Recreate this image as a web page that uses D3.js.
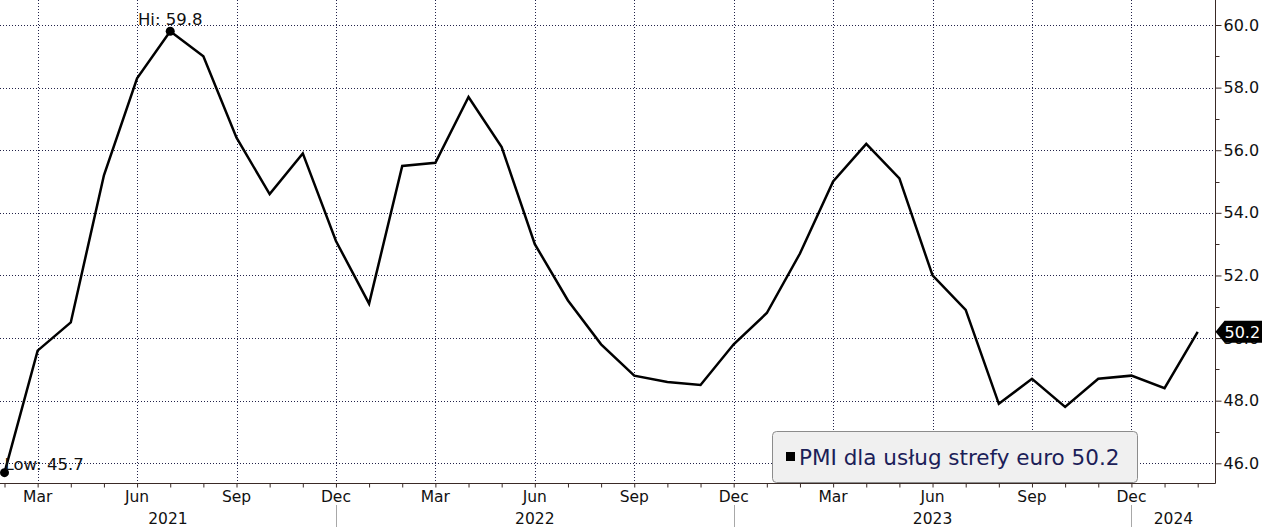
<!DOCTYPE html>
<html>
<head>
<meta charset="utf-8">
<script src="https://cdn.jsdelivr.net/npm/d3@7"></script>
<style>
  html, body { margin: 0; padding: 0; background: #fff; }
  svg { display: block; font-family: "DejaVu Sans", sans-serif; }
</style>
</head>
<body>
<svg id="chart" width="1262" height="527"></svg>
<script>
// ---- data ----
const months = ["2021-02","2021-03","2021-04","2021-05","2021-06","2021-07","2021-08","2021-09","2021-10","2021-11","2021-12",
  "2022-01","2022-02","2022-03","2022-04","2022-05","2022-06","2022-07","2022-08","2022-09","2022-10","2022-11","2022-12",
  "2023-01","2023-02","2023-03","2023-04","2023-05","2023-06","2023-07","2023-08","2023-09","2023-10","2023-11","2023-12",
  "2024-01","2024-02"];
const pmiValues = [45.7,49.6,50.5,55.2,58.3,59.8,59.0,56.4,54.6,55.9,53.1,
  51.1,55.5,55.6,57.7,56.1,53.0,51.2,49.8,48.8,48.6,48.5,49.8,
  50.8,52.7,55.0,56.2,55.1,52.0,50.9,47.9,48.7,47.8,48.7,48.8,
  48.4,50.2];
const quarterMonths = ["2021-03","2021-06","2021-09","2021-12","2022-03","2022-06","2022-09","2022-12","2023-03","2023-06","2023-09","2023-12"];
const monthNames = {"03":"Mar","06":"Jun","09":"Sep","12":"Dec"};
const yearLabels = ["2021","2022","2023","2024"];
const yearEnds = ["2021-12","2022-12","2023-12"];
const yTicks = [46,48,50,52,54,56,58,60];
const yMinorTicks = [47,49,51,53,55,57,59];
const seriesName = "PMI dla usług strefy euro";

// ---- layout ----
const plotRight = 1215.5, axisY = 483.5;
const svg = d3.select("#chart");

const x = d3.scalePoint().domain(months).range([4.5, 1197.7]);
const y = d3.scaleLinear().domain([46, 60]).range([463.3, 25]);

const gridColor = "#23234a";
const axisColor = "#3a2a26";

// horizontal grid
svg.append("g").selectAll("line").data(yTicks).join("line")
  .attr("x1", 0).attr("x2", plotRight)
  .attr("y1", d => Math.round(y(d)) + 0.5).attr("y2", d => Math.round(y(d)) + 0.5)
  .attr("stroke", gridColor).attr("stroke-width", 1).attr("stroke-dasharray", "1,2");

// vertical grid
svg.append("g").selectAll("line").data(quarterMonths).join("line")
  .attr("x1", d => Math.round(x(d)) + 0.5).attr("x2", d => Math.round(x(d)) + 0.5)
  .attr("y1", 0).attr("y2", axisY)
  .attr("stroke", gridColor).attr("stroke-width", 1).attr("stroke-dasharray", "1,2");

// bottom axis (monthly ticks)
const xAxis = d3.axisBottom(x).tickValues(months).tickSize(4).tickFormat("");
const gx = svg.append("g").attr("transform", `translate(0,${axisY})`).call(xAxis);
gx.select(".domain").remove();
gx.selectAll(".tick line").attr("stroke", axisColor);
svg.append("line").attr("x1", 0).attr("x2", plotRight).attr("y1", axisY).attr("y2", axisY)
  .attr("stroke", axisColor).attr("stroke-width", 1);

// month labels
svg.append("g").selectAll("text").data(quarterMonths).join("text")
  .attr("x", d => x(d)).attr("y", 502)
  .attr("text-anchor", "middle").attr("font-size", 15.5).attr("fill", "#111")
  .text(d => monthNames[d.slice(5)]);

// year separators and labels
const step = x.step();
const sepX = yearEnds.map(d => x(d));
const bounds = [0, ...sepX, plotRight];
svg.append("g").selectAll("line").data(sepX).join("line")
  .attr("x1", d => Math.round(d) + 0.5).attr("x2", d => Math.round(d) + 0.5)
  .attr("y1", 505).attr("y2", 527).attr("stroke", "#a8a8a8").attr("stroke-width", 1);
svg.append("g").selectAll("text").data(yearLabels).join("text")
  .attr("x", (d, i) => (bounds[i] + bounds[i + 1]) / 2).attr("y", 524)
  .attr("text-anchor", "middle").attr("font-size", 15.5).attr("fill", "#111")
  .text(d => d);

// right axis
svg.append("line").attr("x1", plotRight).attr("x2", plotRight).attr("y1", 0).attr("y2", axisY)
  .attr("stroke", axisColor).attr("stroke-width", 1);
const yAxis = d3.axisRight(y).tickValues(yTicks).tickSize(6).tickPadding(2).tickFormat(d3.format(".1f"));
const gy = svg.append("g").attr("transform", `translate(${plotRight},0)`).call(yAxis);
gy.select(".domain").remove();
gy.selectAll(".tick line").attr("stroke", axisColor);
gy.selectAll(".tick text").attr("font-size", 16).attr("fill", "#111").attr("font-family", "DejaVu Sans");
svg.append("g").selectAll("line").data(yMinorTicks).join("line")
  .attr("x1", plotRight).attr("x2", plotRight + 4)
  .attr("y1", d => Math.round(y(d)) + 0.5).attr("y2", d => Math.round(y(d)) + 0.5)
  .attr("stroke", axisColor);

// series line
const data = months.map((m, i) => ({ m, v: pmiValues[i] }));
svg.append("path").datum(data)
  .attr("fill", "none").attr("stroke", "#000").attr("stroke-width", 2.5)
  .attr("d", d3.line().x(d => x(d.m)).y(d => y(d.v)));

// Hi / Low markers
const hi = data.reduce((a, b) => (b.v > a.v ? b : a));
const lo = data.reduce((a, b) => (b.v < a.v ? b : a));
svg.append("circle").attr("cx", x(hi.m)).attr("cy", y(hi.v)).attr("r", 4.5).attr("fill", "#000");
svg.append("circle").attr("cx", x(lo.m)).attr("cy", y(lo.v)).attr("r", 4.5).attr("fill", "#000");
svg.append("text").attr("x", x(hi.m)).attr("y", y(hi.v) - 6)
  .attr("text-anchor", "middle").attr("font-size", 16.5).attr("fill", "#111")
  .text("Hi: " + hi.v.toFixed(1));
svg.append("text").attr("x", x(lo.m)).attr("y", y(lo.v) - 3)
  .attr("text-anchor", "start").attr("font-size", 16.5).attr("fill", "#111")
  .text("Low: " + lo.v.toFixed(1));

// last value tag
const last = data[data.length - 1];
const ty = y(last.v);
svg.append("path")
  .attr("d", `M${plotRight},${ty} L${plotRight + 9},${ty - 11} L1262,${ty - 11} L1262,${ty + 11} L${plotRight + 9},${ty + 11} Z`)
  .attr("fill", "#000");
svg.append("text").attr("x", plotRight + 9).attr("y", ty + 6)
  .attr("font-size", 16).attr("fill", "#fff").text(last.v.toFixed(1));

// legend
const lg = svg.append("g");
lg.append("rect").attr("x", 772.5).attr("y", 431.5).attr("width", 365).attr("height", 51).attr("rx", 4)
  .attr("fill", "#f0f0f0").attr("stroke", "#8c8c8c");
lg.append("rect").attr("x", 786).attr("y", 452).attr("width", 9).attr("height", 9).attr("fill", "#000");
lg.append("text").attr("x", 799).attr("y", 465).attr("font-size", 21.5).attr("fill", "#1b2058")
  .text(seriesName + " " + last.v.toFixed(1));
</script>
</body>
</html>
